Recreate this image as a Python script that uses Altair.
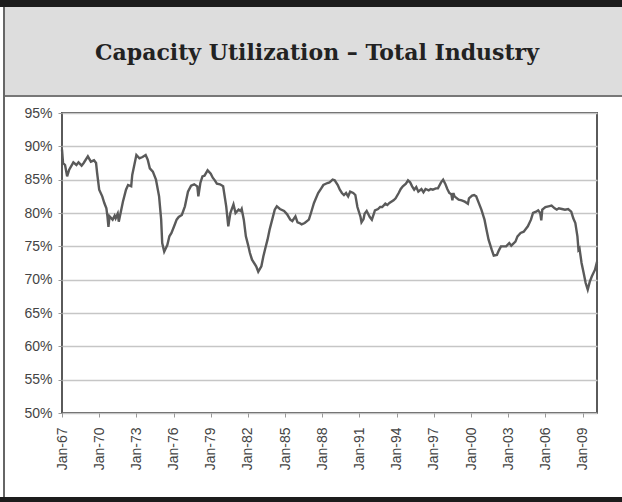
import altair as alt
import pandas as pd

# Monthly readings of total industry capacity utilization (percent)
months = [
    "1967-01", "1967-02", "1967-04", "1967-06", "1967-08", "1967-12",
    "1968-03", "1968-05", "1968-08", "1968-10",
    "1969-02", "1969-05", "1969-08", "1969-10", "1969-11",
    "1970-01", "1970-04", "1970-06", "1970-08", "1970-09", "1970-10", "1970-11",
    "1971-02", "1971-04", "1971-05", "1971-07", "1971-08", "1971-10", "1971-12",
    "1972-03", "1972-05", "1972-08", "1972-09", "1972-11",
    "1973-01", "1973-04", "1973-07", "1973-10", "1973-12",
    "1974-02", "1974-05", "1974-08", "1974-11",
    "1975-01", "1975-02", "1975-04", "1975-07", "1975-09", "1975-11",
    "1976-02", "1976-04", "1976-06", "1976-09", "1976-12",
    "1977-03", "1977-06", "1977-09", "1977-12",
    "1978-01", "1978-03", "1978-05", "1978-07", "1978-10",
    "1979-01", "1979-03", "1979-05", "1979-07", "1979-10",
    "1980-01", "1980-04", "1980-06", "1980-08", "1980-11",
    "1981-01", "1981-04", "1981-06", "1981-07", "1981-09", "1981-11",
    "1982-01", "1982-03", "1982-05", "1982-09", "1982-11",
    "1983-02", "1983-04", "1983-06", "1983-08", "1983-10",
    "1984-01", "1984-03", "1984-05", "1984-08", "1984-12",
    "1985-03", "1985-06", "1985-08", "1985-11",
    "1986-01", "1986-03", "1986-05", "1986-08", "1986-12",
    "1987-02", "1987-05", "1987-09", "1987-12",
    "1988-02", "1988-06", "1988-08", "1988-11",
    "1989-01", "1989-04", "1989-06", "1989-08", "1989-10", "1989-12",
    "1990-02", "1990-04", "1990-07", "1990-09", "1990-11",
    "1991-02", "1991-03", "1991-05", "1991-06", "1991-08", "1991-09", "1991-11",
    "1992-01", "1992-03", "1992-04", "1992-07", "1992-09", "1992-11",
    "1993-02", "1993-04", "1993-06", "1993-10", "1993-12",
    "1994-03", "1994-05", "1994-07", "1994-10", "1994-12",
    "1995-02", "1995-04", "1995-06", "1995-08", "1995-10",
    "1996-01", "1996-03", "1996-05", "1996-08", "1996-10", "1996-12",
    "1997-03", "1997-05", "1997-08", "1997-10", "1997-12",
    "1998-02", "1998-04", "1998-06", "1998-07", "1998-08", "1998-09",
    "1999-01", "1999-04", "1999-07", "1999-10", "1999-11",
    "2000-02", "2000-04", "2000-06", "2000-08", "2000-11",
    "2001-02", "2001-04", "2001-06", "2001-09", "2001-11",
    "2002-02", "2002-04", "2002-06", "2002-09", "2002-11",
    "2003-02", "2003-04", "2003-06", "2003-08", "2003-10",
    "2004-01", "2004-04", "2004-06", "2004-08", "2004-11",
    "2005-01", "2005-04", "2005-06", "2005-08", "2005-09", "2005-10",
    "2006-01", "2006-04", "2006-07", "2006-10", "2006-12",
    "2007-02", "2007-05", "2007-08", "2007-11",
    "2008-02", "2008-04", "2008-06", "2008-08", "2008-09", "2008-10", "2008-12",
    "2009-02", "2009-04", "2009-06", "2009-08", "2009-10",
    "2010-01", "2010-03",
]

utilization = [
    89.5, 87.5, 87.2, 85.5, 86.5, 87.6,
    87.2, 87.6, 87.1, 87.5,
    88.5, 87.7, 87.9, 87.5, 86.0,
    83.5, 82.5, 81.5, 80.7, 79.5, 77.9, 79.5,
    79.0, 79.6, 79.2, 79.9, 78.7, 80.2, 81.7,
    83.5, 84.2, 84.0, 85.7, 87.2,
    88.7, 88.2, 88.4, 88.7, 88.0,
    86.7, 86.2, 85.0, 82.5,
    79.0, 75.5, 74.2, 75.2, 76.5, 77.0,
    78.2, 79.0, 79.4, 79.7, 81.0,
    83.2, 84.1, 84.3, 84.0,
    82.5, 84.5, 85.5, 85.6, 86.4,
    85.9, 85.3, 84.9, 84.4, 84.3,
    84.0, 81.0, 78.0, 80.0, 81.3,
    80.0, 80.5, 80.3, 80.6, 79.0, 76.5,
    75.3, 74.0, 73.0, 72.0, 71.2,
    72.0, 73.5, 74.8, 76.0, 77.5,
    79.3, 80.5, 81.0, 80.6, 80.3,
    79.8, 79.0, 78.8, 79.5,
    78.6, 78.5, 78.3, 78.5, 79.0,
    80.0, 81.5, 83.0, 83.7,
    84.2, 84.5, 84.6, 85.0,
    84.9, 84.2, 83.5, 83.0, 82.7, 83.0,
    82.5, 83.2, 83.0, 82.7, 80.9,
    79.4, 78.6, 79.1, 79.9, 80.3, 80.0, 79.4,
    79.0, 79.9, 80.4, 80.6, 80.9, 80.9,
    81.4, 81.2, 81.5, 81.9, 82.2,
    83.0, 83.6, 84.0, 84.4, 84.9,
    84.6, 84.0, 83.5, 83.9, 83.2,
    83.6, 83.1, 83.6, 83.4, 83.6, 83.5,
    83.7, 83.7, 84.6, 85.0, 84.4,
    83.6, 83.0, 82.8, 81.9, 83.0, 82.5,
    82.0, 81.9, 81.7, 81.4, 82.2,
    82.6, 82.7, 82.5, 81.7, 80.5,
    79.0, 77.5, 76.0, 74.5, 73.6,
    73.7, 74.4, 75.0, 75.0, 75.0,
    75.5, 75.1, 75.4, 75.7, 76.5,
    77.0, 77.2, 77.6, 78.0, 79.0,
    80.0, 80.2, 80.4, 80.0, 78.9, 80.5,
    80.9, 81.0, 81.1, 80.7, 80.5,
    80.7, 80.6, 80.5, 80.6,
    80.2, 79.2, 78.5, 76.5, 74.5, 74.7, 72.5,
    71.0, 69.5, 68.5, 69.7, 70.5,
    71.5, 72.7,
]

title_text = "Capacity Utilization – Total Industry"
tick_years = list(range(1967, 2010, 3))
y_ticks = [0.50, 0.55, 0.60, 0.65, 0.70, 0.75, 0.80, 0.85, 0.90, 0.95]

# local-time timestamps so data and axis dates line up
series = pd.DataFrame({
    "month": [m + "-01T00:00:00" for m in months],
    "rate": [v / 100 for v in utilization],
})
one_row = pd.DataFrame({"k": [0]})

PLOT_W, PLOT_H = 535, 300

# grey header panel with its dark top band and rule underneath
header = alt.Chart(one_row).mark_rect(fill="#dddddd").encode(
    x=alt.value(-58), x2=alt.value(PLOT_W + 30),
    y=alt.value(-107), y2=alt.value(-17),
)
top_band = alt.Chart(one_row).mark_rect(fill="#1c1c1c").encode(
    x=alt.value(-70), x2=alt.value(PLOT_W + 30),
    y=alt.value(-120), y2=alt.value(-106),
)
header_rule = alt.Chart(one_row).mark_rule(color="#777777", strokeWidth=2).encode(
    x=alt.value(-58), x2=alt.value(PLOT_W + 30), y=alt.value(-17),
)
left_rule = alt.Chart(one_row).mark_rule(color="#666666", strokeWidth=2).encode(
    x=alt.value(-58), y=alt.value(-106), y2=alt.value(PLOT_H + 84),
)
bottom_band = alt.Chart(one_row).mark_rect(fill="#1c1c1c").encode(
    x=alt.value(-70), x2=alt.value(PLOT_W + 30),
    y=alt.value(PLOT_H + 84), y2=alt.value(PLOT_H + 100),
)
title = alt.Chart(one_row).mark_text(
    font="DejaVu Serif", fontWeight="bold", fontSize=22, color="#222222",
    align="center", baseline="alphabetic",
).encode(
    x=alt.value(255), y=alt.value(-53), text=alt.value(title_text),
)

line = alt.Chart(series).mark_line(color="#5a5a5a", strokeWidth=2.4).encode(
    x=alt.X(
        "month:T",
        scale=alt.Scale(domain=[alt.DateTime(year=1967, month=1, date=1),
                                alt.DateTime(year=2010, month=3, date=1)]),
        axis=alt.Axis(
            values=[alt.DateTime(year=y, month=1, date=1) for y in tick_years],
            format="%b-%y", labelAngle=270, title=None, grid=False,
            domain=False, tickSize=4, tickColor="#999999",
            labelFont="Liberation Sans", labelFontSize=14, labelColor="#444444",
            labelPadding=10, labelOverlap=False,
        ),
    ),
    y=alt.Y(
        "rate:Q",
        scale=alt.Scale(domain=[0.5, 0.95], nice=False, zero=False),
        axis=alt.Axis(
            values=y_ticks, format=".0%", title=None, grid=True,
            gridColor="#c6c6c6", gridWidth=1.5, domain=False,
            tickSize=4, tickColor="#999999",
            labelFont="Liberation Sans", labelFontSize=14, labelColor="#444444",
            labelPadding=6,
        ),
    ),
)

chart = alt.layer(
    header, top_band, header_rule, left_rule, bottom_band, title, line
).properties(
    width=PLOT_W, height=PLOT_H,
    padding={"left": 62, "top": 113, "right": 25, "bottom": 89},
    autosize=alt.AutoSizeParams(type="none"),
    background="white",
).configure_view(stroke="#5a5a5a", strokeWidth=2)

chart.save("out.html", embed_options={"renderer": "svg", "actions": False})
